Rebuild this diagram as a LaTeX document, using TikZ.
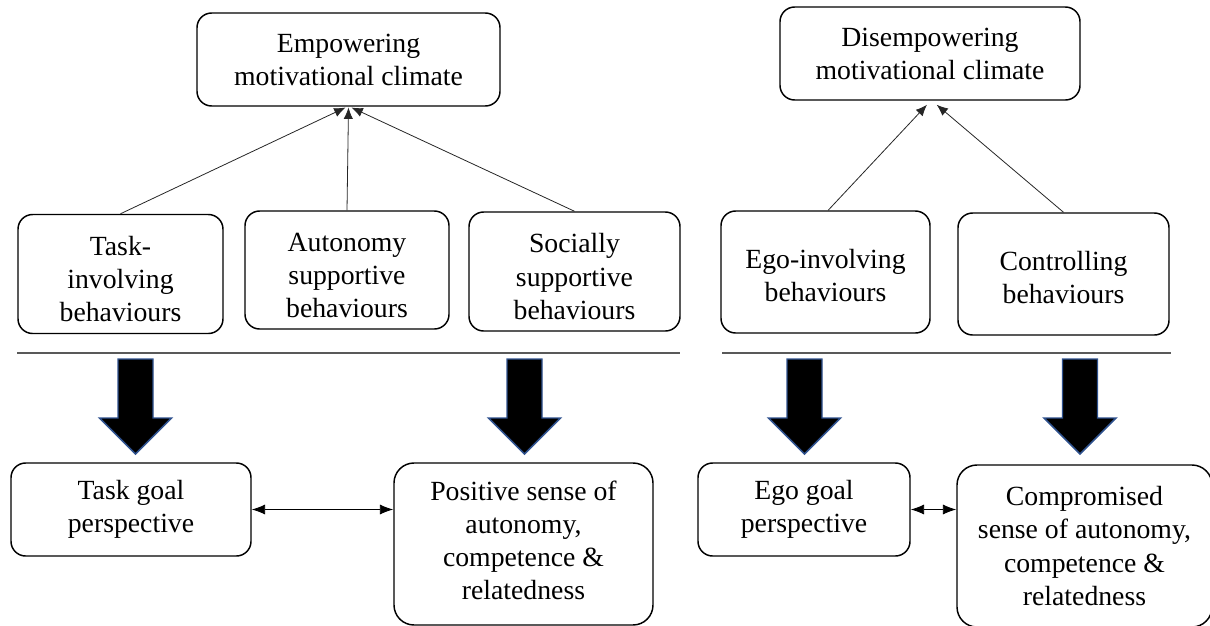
\documentclass[tikz,border=0pt]{standalone}
\usepackage{fontspec}
\setmainfont{Liberation Serif}
\usetikzlibrary{arrows.meta}
\definecolor{arrowedge}{HTML}{2F528F}
\definecolor{sepgray}{HTML}{595959}
\newcommand{\padtop}[1]{\rule{0pt}{#1}}
\newcommand{\padbot}[1]{\rule[-#1]{0pt}{0pt}}
\tikzset{
  box/.style={draw=black, line width=1.1pt, rounded corners=11pt, inner sep=0pt,
    align=center, font=\fontsize{20.8pt}{24.8pt}\selectfont},
  bigbox/.style={box, rounded corners=15pt},
  thinarrow/.style={draw=black!85, line width=0.6pt, -{Latex[length=8.5pt,width=7pt]}},
  twoway/.style={draw=black, line width=0.6pt, {Latex[length=10pt,width=7.5pt]}-{Latex[length=10pt,width=7.5pt]}},
  sepline/.style={draw=sepgray, line width=0.9pt},
  fatarrow/.pic={\draw[fill=black, draw=arrowedge, line width=1.1pt, line join=miter]
    (-17.5,0) -- (17.5,0) -- (17.5,59) -- (36,59) -- (0,95) -- (-36,59) -- (-17.5,59) -- cycle;}
}
\begin{document}
\begin{tikzpicture}[x=0.75pt, y=-0.75pt]
\useasboundingbox (0,0) rectangle (1210,625);
% top row
\node[box, minimum width=227.25pt, minimum height=69.75pt] (emp) at (348.5,59.5) {Empowering\\motivational climate};
\node[box, minimum width=225pt, minimum height=69.75pt] (dis) at (930,53.5) {Disempowering\\motivational climate};
% behaviours
\node[box, minimum width=153.75pt, minimum height=89.25pt] (task) at (120.5,274) {\padtop{22pt}Task-\\involving\\behaviours};
\node[box, minimum width=153pt, minimum height=88.5pt] (auto) at (347,270) {\padtop{22pt}Autonomy\\supportive\\behaviours};
\node[box, minimum width=158.25pt, minimum height=89.25pt] (soc) at (574.5,271.5) {\padtop{22pt}Socially\\supportive\\behaviours};
\node[box, minimum width=156.75pt, minimum height=91.5pt] (ego) at (825.5,272) {\padtop{19pt}Ego-involving\\behaviours};
\node[box, minimum width=158.25pt, minimum height=91.5pt] (ctrl) at (1063.5,274) {\padtop{19pt}Controlling\\behaviours};
% outcomes
\node[box, minimum width=180pt, minimum height=69.75pt] (tg) at (131,509.5) {Task goal\\perspective};
\node[bigbox, minimum width=194.25pt, minimum height=121.5pt] (pos) at (523.5,544) {Positive sense of\\autonomy,\\competence \&\\relatedness\padbot{6pt}};
\node[box, minimum width=159pt, minimum height=69.75pt] (eg) at (804,509.5) {Ego goal\\perspective};
\node[bigbox, minimum width=191.25pt, minimum height=121.5pt] (comp) at (1084.5,546) {Compromised\\sense of autonomy,\\competence \&\\relatedness};
% thin arrows
\draw[thinarrow] (task.north) -- ([xshift=-2.25pt,yshift=-0.6pt]emp.south);
\draw[thinarrow] (auto.north) -- ([yshift=-0.6pt]emp.south);
\draw[thinarrow] (soc.north) -- ([xshift=2.25pt,yshift=-0.6pt]emp.south);
\draw[thinarrow] ([xshift=2pt]ego.north) -- ([xshift=-2.25pt,yshift=-3pt]dis.south);
\draw[thinarrow] (ctrl.north) -- ([xshift=5pt,yshift=-3pt]dis.south);
% separators
\draw[sepline] (17,353) -- (680,353);
\draw[sepline] (722,353) -- (1171,353);
% fat arrows
\pic at (135.5,359) {fatarrow};
\pic at (524.5,359) {fatarrow};
\pic at (804.5,359) {fatarrow};
\pic at (1080,359) {fatarrow};
% two-way arrows
\draw[twoway] (tg.east) -- (tg.east -| pos.west);
\draw[twoway] (eg.east) -- (eg.east -| comp.west);
\end{tikzpicture}
\end{document}
